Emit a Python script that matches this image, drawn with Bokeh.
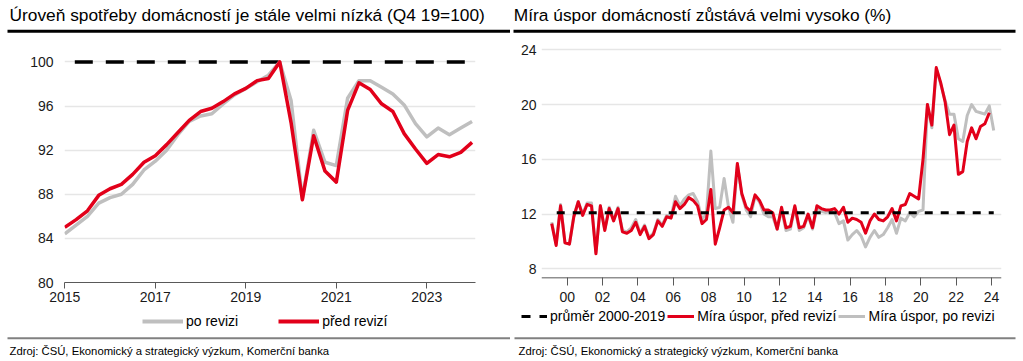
from bokeh.plotting import figure
from bokeh.layouts import row, column
from bokeh.models import Legend, LegendItem, FixedTicker, Range1d, ColumnDataSource, Span
from bokeh.core.properties import value
from bokeh.embed import file_html
from bokeh.resources import INLINE

FONT = "Liberation Sans"
RED = "#E2001A"
GRAY = "#BFBFBF"
GRID = "#E6E6E6"
AXIS = "#595959"

# ---------------- data: left chart (consumption level, Q4 2019 = 100)
left_periods = [f"{y}Q{q}" for y in range(2015, 2025) for q in range(1, 5)][:37]
left_before = [85.0, 85.7, 86.5, 87.9, 88.5, 88.9, 89.8, 90.9, 91.5, 92.5,
               93.6, 94.7, 95.5, 95.8, 96.4, 97.1, 97.6, 98.3, 98.5, 100.0,
               94.5, 87.5, 93.3, 90.1, 89.1, 95.6, 98.1, 97.5, 96.2, 95.5,
               93.5, 92.1, 90.8, 91.6, 91.4, 91.8, 92.7]
left_after = [84.4, 85.2, 86.0, 87.2, 87.7, 88.0, 88.9, 90.2, 91.0, 92.0,
              93.4, 94.6, 95.1, 95.3, 96.2, 97.0, 97.6, 98.2, 98.8, 100.0,
              96.5, 87.6, 93.8, 90.9, 90.6, 96.7, 98.3, 98.3, 97.7, 97.1,
              96.1, 94.4, 93.2, 94.0, 93.4, 94.0, 94.6]
left_base = 100.0
left_xticks = [2015, 2017, 2019, 2021, 2023]
left_xtick_labels = ["2015", "2017", "2019", "2021", "2023"]
left_yticks = [80, 84, 88, 92, 96, 100]

# ---------------- data: right chart (household saving rate, %)
right_periods = [f"{y}Q{q}" for y in range(1999, 2025) for q in range(1, 5)][:101]
right_before = [11.3, 9.7, 12.6, 9.9, 9.8, 11.8, 12.9, 11.9, 12.7, 12.6,
                9.1, 12.6, 10.8, 12.4, 11.5, 12.4, 10.7, 10.6, 10.8, 11.4,
                10.5, 11.1, 10.2, 10.5, 11.5, 11.1, 11.8, 11.7, 12.9, 12.4,
                12.7, 13.2, 13.0, 12.6, 11.3, 11.6, 13.8, 9.8, 11.0, 12.3,
                12.5, 12.1, 15.7, 13.5, 12.5, 12.2, 13.4, 13.0, 12.3, 12.3,
                12.1, 10.9, 12.5, 11.0, 11.1, 12.6, 11.0, 11.1, 12.0, 11.0,
                12.6, 12.4, 12.3, 12.3, 12.4, 12.0, 12.5, 11.4, 11.7, 11.6,
                11.4, 10.6, 11.5, 12.0, 11.6, 11.5, 11.8, 12.4, 11.5, 12.6,
                12.7, 13.5, 13.3, 13.1, 16.0, 20.0, 18.5, 22.7, 21.6, 20.2,
                17.8, 18.5, 14.9, 15.1, 17.3, 18.3, 17.5, 18.4, 18.6, 19.4]
right_after = [11.4, 9.8, 12.7, 9.9, 9.8, 11.9, 12.9, 12.0, 12.8, 12.8,
               9.2, 12.6, 10.9, 12.5, 11.6, 12.5, 10.8, 10.7, 11.0, 11.6,
               10.6, 11.2, 10.3, 10.6, 11.6, 11.2, 11.9, 11.8, 13.3, 12.6,
               13.1, 13.4, 13.5, 12.9, 11.6, 12.0, 16.6, 12.4, 12.5, 14.6,
               12.5, 11.4, 15.6, 13.4, 12.3, 11.8, 13.3, 12.9, 12.0, 11.8,
               11.8, 10.9, 12.3, 10.8, 10.9, 12.5, 10.8, 11.0, 11.9, 10.9,
               12.5, 12.2, 12.1, 12.2, 12.1, 11.3, 11.5, 10.1, 10.5, 10.8,
               10.4, 9.6, 10.3, 10.8, 10.3, 10.5, 11.0, 11.6, 10.6, 11.7,
               11.5, 12.1, 11.8, 12.2, 12.3, 20.0, 18.3, 22.6, 21.5, 20.3,
               19.3, 19.3, 17.5, 17.3, 19.2, 20.0, 19.5, 19.4, 19.3, 19.9,
               18.1]
right_avg = 12.1
right_axis_level = 7.34
right_xticks = list(range(2000, 2025, 2))
right_xtick_labels = ["00", "02", "04", "06", "08", "10", "12",
                      "14", "16", "18", "20", "22", "24"]
right_yticks = [8, 12, 16, 20, 24]

TITLE_L = "Úroveň spotřeby domácností je stále velmi nízká (Q4 19=100)"
TITLE_R = "Míra úspor domácností zůstává velmi vysoko (%)"
SOURCE = "Zdroj: ČSÚ, Ekonomický a strategický výzkum, Komerční banka"

HH, HC, HF = 36, 272, 53      # header / chart / footer heights
FT, FB = 11, 26               # chart top / bottom borders


def to_t(period, shift):
    y, q = period.split("Q")
    return int(y) + (int(q) - 1) / 4 + shift


def blank_fig(w, h):
    f = figure(width=w, height=h, output_backend="svg", toolbar_location=None,
               x_range=Range1d(0, w), y_range=Range1d(h, 0),
               x_axis_type=None, y_axis_type=None, frame_align=False,
               min_border_left=0, min_border_right=0, min_border_top=0, min_border_bottom=0)
    f.grid.visible = False
    f.outline_line_color = None
    return f


def header(w, text, tx, lx0, lx1):
    f = blank_fig(w, HH)
    f.text(x=[tx], y=[14.4], text=[text], text_font=value(FONT), text_font_size="17.33px",
           text_color="#000000", text_baseline="alphabetic")
    f.segment(x0=[lx0], y0=[30.8], x1=[lx1], y1=[30.8], line_color="#000000", line_width=3)
    return f


def footer(w, tx, lx0, lx1, legend_specs, leg_x, leg_center, glyph_w, standoff, spacing):
    f = blank_fig(w, HF)
    f.segment(x0=[lx0], y0=[29.7], x1=[lx1], y1=[29.7], line_color="#808080", line_width=2)
    f.text(x=[tx], y=[42.5], text=[SOURCE], text_font=value(FONT), text_font_size="11.3px",
           text_color="#000000", text_baseline="alphabetic")
    items = []
    for label, style in legend_specs:
        # legend proxy: same style as the chart line, drawn outside the visible footer area
        r = f.line(x=[-30, -20], y=[-30, -30], **style)
        items.append(LegendItem(label=label, renderers=[r]))
    lh = 16
    leg = Legend(items=items, location=(leg_x, HF - (leg_center + lh / 2)), orientation="horizontal",
                 glyph_width=glyph_w, glyph_height=lh, label_height=lh, label_standoff=standoff,
                 spacing=spacing, padding=0, margin=0, border_line_color=None,
                 background_fill_alpha=0, label_text_font=FONT, label_text_font_size="14px",
                 label_text_color="#000000")
    f.add_layout(leg)
    return f


def style_axes(p, xticks, xlabels, yticks, ylab_standoff, tick_in, tick_out, xlab_standoff):
    p.xaxis.ticker = FixedTicker(ticks=xticks)
    p.xaxis.major_label_overrides = {t: l for t, l in zip(xticks, xlabels)}
    p.yaxis.ticker = FixedTicker(ticks=yticks)
    p.xaxis.minor_tick_line_color = None
    p.yaxis.minor_tick_line_color = None
    p.xaxis.major_tick_out = tick_out
    p.xaxis.major_tick_in = tick_in
    p.xaxis.axis_line_color = AXIS
    p.xaxis.major_tick_line_color = AXIS
    p.xaxis.major_label_standoff = xlab_standoff
    p.yaxis.axis_line_color = None
    p.yaxis.major_tick_line_color = None
    p.yaxis.major_tick_out = 0
    p.yaxis.major_tick_in = 0
    p.yaxis.major_label_standoff = ylab_standoff
    for ax in (p.xaxis, p.yaxis):
        ax.major_label_text_font = FONT
        ax.major_label_text_font_size = "14px"
        ax.major_label_text_color = "#1A1A1A"
    p.xgrid.visible = False
    p.ygrid.grid_line_color = GRID
    p.ygrid.grid_line_width = 1.5
    p.outline_line_color = None


fh = HC - FT - FB

# ---------------- left chart
W1 = 510
FL1, FR1 = 64, 35
fw1 = W1 - FL1 - FR1
lx0 = 2015 - 0.3 / 45.25
p1 = figure(width=W1, height=HC, output_backend="svg", toolbar_location=None, frame_align=False,
            x_range=Range1d(lx0, lx0 + fw1 / 45.25),
            y_range=Range1d(80, 80 + fh / 11.03),
            min_border_left=FL1, min_border_right=FR1,
            min_border_top=FT, min_border_bottom=FB)
lsrc = ColumnDataSource(dict(t=[to_t(p, 0) for p in left_periods],
                             before=left_before, after=left_after,
                             base=[left_base] * len(left_periods)))
p1.line("t", "base", source=lsrc, line_color="#000000", line_width=3.5, line_dash="0 10 18 3")
p1.line("t", "after", source=lsrc, line_color=GRAY, line_width=3.5, line_join="round")
p1.line("t", "before", source=lsrc, line_color=RED, line_width=3.5, line_join="round")
style_axes(p1, left_xticks, left_xtick_labels, left_yticks, 11, 0, 6, 3)

# ---------------- right chart
W2 = 513
FL2, FR2 = 31, 22
fw2 = W2 - FL2 - FR2
rx0 = 2000 - (566.7 - (510 + FL2)) / 17.68
ry0 = 8 - (282.0 - 268.3) / 13.6875
p2 = figure(width=W2, height=HC, output_backend="svg", toolbar_location=None, frame_align=False,
            x_range=Range1d(rx0, rx0 + fw2 / 17.68),
            y_range=Range1d(ry0, ry0 + fh / 13.6875),
            min_border_left=FL2, min_border_right=FR2,
            min_border_top=FT, min_border_bottom=FB)
t_all = [to_t(p, 0.125) for p in right_periods]
rs_after = ColumnDataSource(dict(t=t_all, v=right_after))
rs_before = ColumnDataSource(dict(t=t_all[:len(right_before)], v=right_before))
rs_avg = ColumnDataSource(dict(t=t_all, v=[right_avg] * len(t_all)))
p2.line("t", "v", source=rs_after, line_color=GRAY, line_width=3, line_join="round")
p2.line("t", "v", source=rs_before, line_color=RED, line_width=3, line_join="round")
p2.line("t", "v", source=rs_avg, line_color="#000000", line_width=3, line_dash="0 5 8 3")
style_axes(p2, right_xticks, right_xtick_labels, right_yticks, 5, 5, 3, 6)
p2.xaxis.axis_line_color = None
p2.add_layout(Span(location=right_axis_level, dimension="width", line_color=AXIS, line_width=1))

left_legend = [("po revizi", dict(line_color=GRAY, line_width=4)),
               ("před revizí", dict(line_color=RED, line_width=4))]
right_legend = [("průměr 2000-2019", dict(line_color="#000000", line_width=3, line_dash="0 1 9 8")),
                ("Míra úspor, před revizí", dict(line_color=RED, line_width=3)),
                ("Míra úspor, po revizi", dict(line_color=GRAY, line_width=3))]

left = column(header(W1, TITLE_L, 9, 7, 510), p1,
              footer(W1, 9, 7, 510, left_legend, 142, 13, 41, 3, 40), spacing=0)
right = column(header(W2, TITLE_R, 3.3, 3, 505), p2,
               footer(W2, 8, 4, 505, right_legend, 10, 7.7, 27, 3, 2), spacing=0)
layout = row(left, right, spacing=0)
open("out.html", "w").write(file_html(layout, INLINE))
